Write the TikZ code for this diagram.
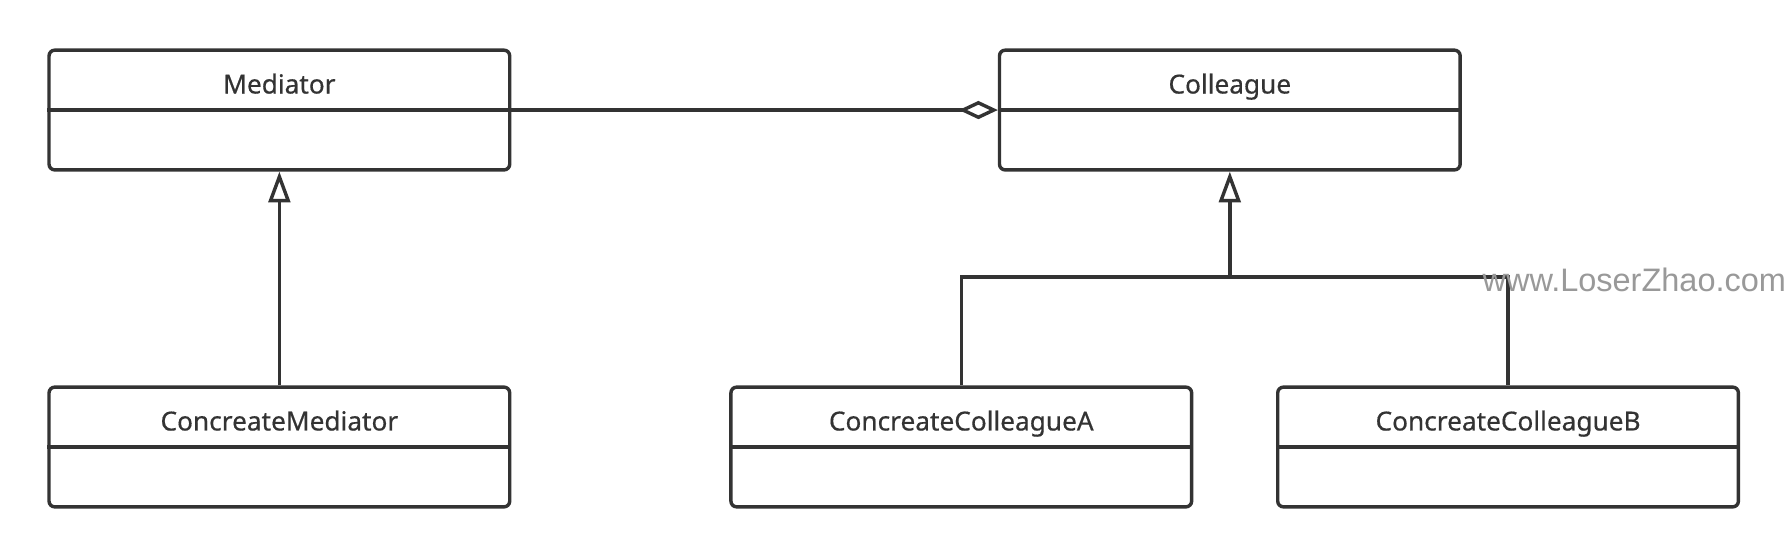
\documentclass[tikz,border=0pt]{standalone}
\usepackage{fontspec}
\setmainfont{Noto Sans}
\newfontfamily\titlefont[FakeBold=0.5]{Noto Sans}
\newfontfamily\wmfont{Liberation Sans}
\usetikzlibrary{arrows.meta}
\definecolor{ink}{HTML}{333333}
\definecolor{wm}{HTML}{999999}
\tikzset{
  cls/.style={draw=ink, line width=3pt, rounded corners=5pt, minimum width=404pt, minimum height=105pt, inner sep=0pt},
  divider/.style={draw=ink, line width=3pt},
  title/.style={text=ink, font=\titlefont\fontsize{23}{27}\selectfont, inner sep=0pt, anchor=base},
  conn/.style={draw=ink, line width=3pt},
  agg/.style={conn, -{Diamond[open, length=34pt, width=16pt, line width=3pt]}},
  inh/.style={conn, -{Triangle[open, length=27pt, width=19pt, line width=3pt]}},
  watermark/.style={text=wm, font=\wmfont\fontsize{28.5}{32}\selectfont, inner sep=0pt}
}
\begin{document}
\begin{tikzpicture}[x=1pt,y=-1pt]
\useasboundingbox[fill=white] (0,0) rectangle (1568,489);
% classes
\node[cls] (med)  at (245,96.5)   {};
\node[cls] (col)  at (1078.5,96.5) {};
\node[cls] (cmed) at (245,392)    {};
\node[cls] (cca)  at (843,392)    {};
\node[cls] (ccb)  at (1322.5,392) {};
\foreach \n in {med,col,cmed,cca,ccb} {\draw[divider] (\n.west) -- (\n.east);}
\node[title] (medT)  at ([yshift=14.5pt]med.center)  {Mediator};
\node[title] (colT)  at ([yshift=14.5pt]col.center)  {Colleague};
\node[title] (cmedT) at ([yshift=14.5pt]cmed.center) {ConcreateMediator};
\node[title] (ccaT)  at ([yshift=14.5pt]cca.center)  {ConcreateColleagueA};
\node[title] (ccbT)  at ([yshift=14.5pt]ccb.center)  {ConcreateColleagueB};
% connectors
\draw[agg] (med.east) -- (col.west);
\draw[inh] (cmed.north) -- (med.south);
\coordinate (j) at (1078.5,243);
\draw[conn] (cca.north) |- (j) -| (ccb.north);
\draw[inh] (j) -- (col.south);
% watermark
\node[watermark, anchor=base west] (wmk) at (1300,256) {www.LoserZhao.com};
\end{tikzpicture}
\end{document}
